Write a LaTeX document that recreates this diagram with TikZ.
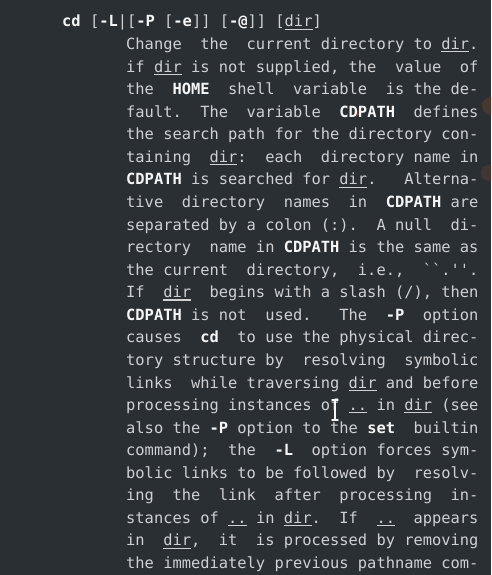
\documentclass[tikz,border=0pt]{standalone}
\usepackage{fontspec}
\setmonofont{DejaVu Sans Mono}
\usetikzlibrary{positioning}
\definecolor{termbg}{HTML}{2A2F33}
\definecolor{termfg}{HTML}{CFD1D3}
\definecolor{termbold}{HTML}{F6F6F6}
\definecolor{wallorange}{HTML}{C8642C}
\newcommand{\bo}[1]{\textbf{\color{termbold}#1}}
\newcommand{\ud}[1]{\leavevmode\setbox0\hbox{#1}\rlap{\rule[-2.8pt]{\wd0}{1.1pt}}\box0\relax}
\newcommand{\bq}{\symbol{"60}}
\newcommand{\aq}{\symbol{"27}}
\tikzset{
	manline/.style={anchor=base west, inner sep=0pt, text=termfg, font=\ttfamily\fontsize{15.4}{18}\selectfont},
	nextline/.style={manline, below=22.56pt of #1.base west, anchor=base west},
	cursor/.style={line width=1.4pt, draw=termbold, line cap=round}
}

\begin{document}
\begin{tikzpicture}
	% Frame and wallpaper showing through
	\fill [termbg] (0,0) rectangle (491pt,-575pt);
	\useasboundingbox (0,0) rectangle (491pt,-575pt);
	\fill [wallorange, opacity=0.18] (491pt,-106pt) circle (9pt);
	\fill [wallorange, opacity=0.15] (489pt,-173pt) circle (8pt);
	\fill [wallorange, opacity=0.3] (357pt,-113pt) circle (3pt);
	
	% Synopsis
	\node [manline] at (62pt,-27pt) (1cd) {\bo{cd} [\bo{-L}|[\bo{-P} [\bo{-e}]] [\bo{-@}]] [\ud{dir}]};
	
	% Description
	\node [manline] at (126pt,-49.6pt) (2change) {Change~ the~ current directory to \ud{dir}.};
	\node [nextline=2change] (3if) {if \ud{dir} is not supplied, the~ value~ of};
	\node [nextline=3if] (4the) {the~ \bo{HOME}~ shell~ variable~ is the de-};
	\node [nextline=4the] (5fault) {fault.~ The~ variable~ \bo{CDPATH}~ defines};
	\node [nextline=5fault] (6the) {the search path for the directory con-};
	\node [nextline=6the] (7taining) {taining~ \ud{dir}:~ each~ directory name in};
	\node [nextline=7taining] (8cdpath) {\bo{CDPATH} is searched for \ud{dir}.~~ Alterna-};
	\node [nextline=8cdpath] (9tive) {tive~ directory~ names~ in~ \bo{CDPATH} are};
	\node [nextline=9tive] (10separated) {separated by a colon (:).~ A null~ di-};
	\node [nextline=10separated] (11rectory) {rectory~ name in \bo{CDPATH} is the same as};
	\node [nextline=11rectory] (12the) {the current~ directory,~ i.e.,~ \bq\bq.\aq\aq.};
	\node [nextline=12the] (13if) {If~ \ud{dir}~ begins with a slash (/), then};
	\node [nextline=13if] (14cdpath) {\bo{CDPATH} is not~ used.~~ The~ \bo{-P}~ option};
	\node [nextline=14cdpath] (15causes) {causes~ \bo{cd}~ to use the physical direc-};
	\node [nextline=15causes] (16tory) {tory structure by~ resolving~ symbolic};
	\node [nextline=16tory] (17links) {links~ while traversing \ud{dir} and before};
	\node [nextline=17links] (18processing) {processing instances of \ud{..} in \ud{dir} (see};
	\node [nextline=18processing] (19also) {also the \bo{-P} option to the \bo{set}~ builtin};
	\node [nextline=19also] (20command) {command);~ the~ \bo{-L}~ option forces sym-};
	\node [nextline=20command] (21bolic) {bolic links to be followed by~ resolv-};
	\node [nextline=21bolic] (22ing) {ing~ the~ link~ after~ processing~ in-};
	\node [nextline=22ing] (23stances) {stances of \ud{..} in \ud{dir}.~ If~ \ud{..}~ appears};
	\node [nextline=23stances] (24in) {in~ \ud{dir},~ it~ is processed by removing};
	\node [nextline=24in] (25the) {the immediately previous pathname com-};
	
	% Mouse pointer
	\draw [cursor] (335pt,-400pt) -- (335pt,-420pt);
	\draw [cursor] (332pt,-400pt) -- (338pt,-400pt);
	\draw [cursor] (332pt,-420pt) -- (338pt,-420pt);
\end{tikzpicture}
\end{document}
